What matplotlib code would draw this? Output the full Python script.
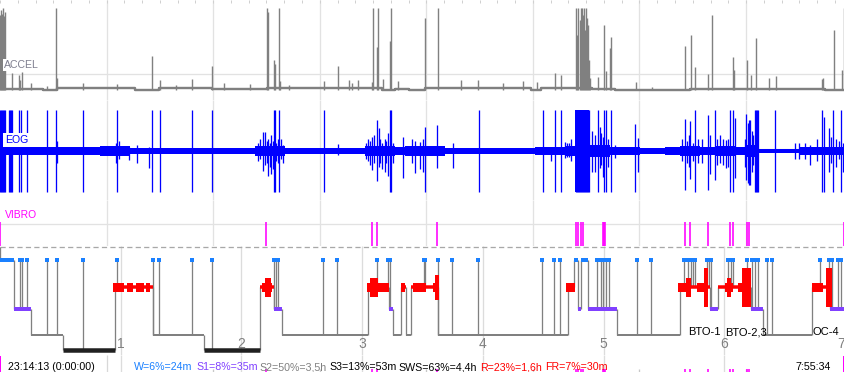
import matplotlib
matplotlib.use("Agg")
import matplotlib.pyplot as plt
import numpy as np

plt.rcParams['font.family'] = ['Liberation Sans', 'DejaVu Sans']

W_PX, H_PX = 845, 372
N_EPOCHS = 840          # 7 h of 30-s epochs

# ---------------- data (time in 30-s epochs) ----------------
accel_t = [0, 1, 2, 3, 4, 5, 12, 19, 20, 22, 31, 47, 56, 57, 83, 116, 151, 159, 175, 191,
           211, 223, 249, 265, 266, 272, 273, 277, 278, 287, 322, 336, 347, 350, 356, 370,
           371, 375, 376, 381, 388, 389, 396, 422, 435, 458, 475, 500, 520, 534, 552, 558,
           573, 574, 575, 577, 578, 579, 580, 581, 582, 583, 584, 585, 586, 587, 594, 600,
           602, 606, 607, 632, 648, 681, 687, 691, 704, 708, 729, 730, 743, 747, 752, 764,
           771, 817, 818, 829, 837, 839]
accel_v = [0.91, 0.98, 0.93, 1.0, 0.90, 0.95, 0.21, 0.18, 0.12, 0.22, 0.09, 0.05, 1.0, 0.15,
           0.09, 0.07, 0.41, 0.12, 0.06, 0.13, 0.29, 0.09, 0.07, 1.0, 0.95, 0.37, 0.32, 1.0,
           0.11, 0.06, 0.11, 0.29, 0.12, 0.09, 0.12, 0.10, 1.0, 0.52, 1.0, 0.13, 0.60, 1.0,
           0.11, 0.88, 1.0, 0.12, 0.12, 0.09, 0.11, 0.10, 0.21, 0.18, 1.0, 0.67, 1.0, 0.85,
           1.0, 1.0, 0.91, 1.0, 0.73, 1.0, 0.88, 0.79, 0.37, 0.15, 0.16, 0.79, 0.23, 0.51,
           0.65, 0.10, 0.04, 0.54, 0.67, 0.28, 0.20, 0.91, 0.40, 0.24, 0.37, 0.18, 0.63, 0.15,
           0.17, 0.13, 0.15, 0.73, 0.24, 1.0]
accel_base_t = [0, 43, 57, 95, 134, 158, 211, 265, 380, 393, 407, 422, 528, 538, 572, 588,
                611, 637, 686, 772, 820, 840]
accel_base_v = [0.01, 0.0, 0.02, 0.03, 0.0, 0.02, 0.015, 0.02, 0.0, 0.015, 0.005, 0.02, 0.0,
                0.02, 0.02, 0.01, 0.0, -0.005, 0.01, 0.015, 0.0, 0.0]

eog_env_t = [0, 12, 99, 129, 253, 283, 363, 393, 403, 442, 532, 562, 572, 586, 606, 636,
             661, 676, 696, 711, 731, 741, 755, 795, 840]
eog_env_v = [0.1, 0.1, 0.11, 0.08, 0.12, 0.085, 0.13, 0.1, 0.11, 0.08, 0.1, 0.11, 1.0, 0.14,
             0.1, 0.08, 0.09, 0.12, 0.1, 0.13, 0.1, 0.14, 0.05, 0.1, 0.1]
eog_full_t = [0, 1, 2, 3, 4, 5, 9, 10, 11, 12, 19, 21, 27, 47, 56, 83, 116, 151, 159, 191,
              211, 272, 273, 277, 322, 388, 389, 476, 540, 552, 558, 573, 574, 575, 576, 577,
              578, 579, 580, 581, 582, 583, 584, 585, 586, 594, 600, 602, 607, 691, 726, 729,
              751, 752, 753, 754, 770, 817, 828, 836]
eog_part_t = [57, 115, 118, 128, 136, 148, 256, 258, 261, 263, 265, 266, 268, 269, 271, 274,
              276, 279, 281, 336, 364, 366, 368, 370, 372, 375, 377, 378, 380, 383, 384, 386,
              391, 401, 410, 413, 418, 420, 422, 434, 450, 548, 562, 564, 566, 568, 588, 591,
              596, 597, 599, 604, 611, 631, 634, 678, 681, 683, 685, 686, 689, 694, 698, 704,
              706, 711, 713, 716, 719, 722, 724, 731, 741, 742, 744, 745, 746, 748, 749, 790,
              794, 800, 805, 812, 819, 824, 826, 831, 834, 838]
eog_part_hi = [0.24, 0.2, 0.25, 0.1, 0.15, 0.1, 0.2, 0.3, 0.46, 0.46, 0.25, 0.3, 0.2, 0.4,
               0.25, 0.2, 0.3, 0.3, 0.15, 0.17, 0.2, 0.3, 0.25, 0.34, 0.4, 0.76, 0.56, 0.3,
               0.2, 0.3, 0.25, 0.45, 0.2, 0.34, 0.3, 0.25, 0.23, 0.3, 0.59, 0.63, 0.2, 0.1,
               0.23, 0.2, 0.2, 0.3, 0.5, 0.4, 0.59, 0.45, 0.35, 0.3, 0.15, 0.66, 0.32, 0.3,
               0.78, 0.25, 0.39, 0.74, 0.2, 0.3, 0.3, 0.88, 0.4, 1.0, 0.3, 0.4, 0.3, 0.27, 0.3,
               0.8, 0.3, 0.9, 0.68, 0.76, 0.76, 0.5, 0.4, 0.2, 0.2, 0.2, 0.15, 0.3, 0.84,
               0.56, 0.35, 0.3, 0.25, 0.2]
eog_part_lo = [-0.3, -0.3, -0.2, -0.22, -0.3, -0.42, -0.25, -0.2, -0.48, -0.35, -0.3, -0.6,
               -0.4, -0.55, -0.45, -0.25, -0.3, -0.2, -0.3, -0.1, -0.2, -0.25, -0.35, -0.46,
               -0.3, -0.72, -0.38, -0.3, -0.45, -0.5, -0.3, -0.6, -0.3, -0.65, -0.3, -0.53,
               -0.44, -0.5, -1.0, -0.42, -0.42, -0.25, -0.17, -0.15, -0.15, -0.25, -0.5, -0.5,
               -0.42, -0.35, -0.63, -0.4, -0.17, -1.0, -0.5, -0.25, -0.95, -0.3, -0.38,
               -0.68, -0.25, -0.3, -0.3, -0.95, -0.55, -0.7, -0.35, -0.3, -0.35, -0.42, -0.4,
               -0.66, -0.4, -0.71, -0.78, -0.83, -0.83, -0.5, -0.35, -0.2, -0.2, -0.2, -0.34,
               -0.25, -1.0, -0.5, -0.3, -0.4, -0.2, -0.5]

vibro_t = [0, 264, 370, 375, 434, 573, 575, 578, 580, 599, 600, 601, 681, 686, 704, 726,
           729, 743, 745, 839]

hyp_start = [0, 14, 31, 63, 114, 152, 203, 258, 272, 280, 366, 387, 391, 399, 404, 409, 435,
             565, 571, 575, 578, 585, 613, 676, 706, 714, 747, 758, 807, 825]
hyp_stage = ['W', 'S1', 'S2', 'S3', 'R', 'S2', 'S3', 'R', 'S1', 'S2', 'R', 'S1', 'S2', 'R',
             'S2', 'R', 'S2', 'R', 'W', 'S1', 'W', 'S1', 'S2', 'R', 'S1', 'R', 'S1', 'S2',
             'R', 'S1']
wake_brief_t = [20, 22, 27, 47, 57, 83, 116, 152, 158, 191, 211, 272, 274, 276, 321, 335,
                375, 386, 388, 421, 422, 435, 449, 475, 539, 551, 557, 593, 597, 599, 602,
                605, 633, 647, 680, 684, 687, 689, 691, 703, 705, 707, 724, 727, 729, 743,
                748, 751, 754, 762, 767, 815, 824, 827, 833, 836]
rem_start = [112, 126, 135, 145, 260, 263, 365, 368, 376, 399, 411, 430, 432, 563, 674, 682,
             693, 700, 721, 723, 734, 738, 807, 821]
rem_end = [123, 132, 143, 149, 270, 269, 376, 376, 387, 403, 423, 436, 436, 572, 684, 687,
           704, 704, 729, 727, 738, 747, 818, 827]
rem_density = [1, 1, 1, 1, 1, 2, 1, 2, 1, 1, 1, 1, 2.5, 1, 1, 2, 1, 4, 1, 2, 1, 4, 1, 4]

event_labels = ['BTO-1', 'BTO-2,3', 'OC-4']
event_t = [684, 721, 808]

hour_labels = ['1', '2', '3', '4', '5', '6', '7']
stats_text = ['W=6%=24m', 'S1=8%=35m', 'S2=50%=3,5h', 'S3=13%=53m', 'SWS=63%=4,4h',
              'R=23%=1,6h', 'FR=7%=30m']
start_label = '23:14:13 (0:00:00)'
end_label = '7:55:34'

# ---------------- styles ----------------
PX = 0.72  # points per pixel
C_GRID = '#e2e2e2'
C_ACC = '#808080'
C_EOG = '#0000ff'
C_VIB = '#ff00ff'
C_W = '#1a80ff'
C_S1 = '#8040ff'
C_S2 = '#808080'
C_S3 = '#202020'
C_R = '#ff0000'
stage_level = {'W': 0.0, 'R': 1.0, 'S1': 1.78, 'S2': 2.71, 'S3': 3.27}
stage_style = {'W': (C_W, 4), 'S1': (C_S1, 4), 'S2': (C_S2, 2), 'S3': (C_S3, 4.5), 'R': (C_R, 3.5)}
stats_colors = [C_W, C_S1, C_S2, '#000000', '#000000', C_R, C_R]
stats_x_px = [134, 196, 259, 329, 398, 480, 545]

grid_t = np.arange(1, 8) * 105.95
tick_t = np.arange(0, 48) * 105.95 / 6
hour_t = np.arange(1, 8) * 120

fig = plt.figure(figsize=(W_PX / 100, H_PX / 100), dpi=100)


def band_axes(top, bottom):
    a = fig.add_axes([0, 1 - bottom / H_PX, 1, (bottom - top) / H_PX])
    a.set_xlim(0, N_EPOCHS)
    a.set_axis_off()
    a.patch.set_alpha(0)
    return a


# ---- ACCEL ----
ax_a = band_axes(0, 100)
ax_a.set_ylim(-0.122, 1.098)
ax_a.vlines(grid_t, -0.122, 1.098, color=C_GRID, lw=1.3 * PX, zorder=0)
ax_a.axhline(0.195, color=C_GRID, lw=1.3 * PX, zorder=0)
ax_a.vlines(tick_t, 0.97, 1.0, color='#d0d0d0', lw=1 * PX,
            transform=ax_a.get_xaxis_transform(), zorder=0)
ax_a.step(accel_base_t, accel_base_v, where='post', color=C_ACC, lw=2.4 * PX, zorder=2)
ax_a.vlines(accel_t, 0, accel_v, color=C_ACC, lw=1.4 * PX, zorder=2)
ax_a.text(0.0045, 0.35, 'ACCEL', transform=ax_a.transAxes, va='center', ha='left',
          fontsize=7.6, color='#7f7f8f', zorder=5,
          bbox=dict(boxstyle='square,pad=0.12', fc='white', ec='none'))

# ---- EOG ----
ax_e = band_axes(100, 200)
ax_e.set_ylim(-1.195, 1.244)
ax_e.vlines(grid_t, -1.195, 1.244, color=C_GRID, lw=1.3 * PX, zorder=0)
ax_e.axhline(0.05, color=C_GRID, lw=1.3 * PX, zorder=0)
env = np.array(eog_env_v)
ax_e.fill_between(eog_env_t, -env, env, step='post', color=C_EOG, lw=0, zorder=2)
ax_e.axhline(0, color=C_EOG, lw=3 * PX, zorder=2)
ax_e.vlines(eog_full_t, -1, 1, color=C_EOG, lw=1.3 * PX, zorder=2)
ax_e.vlines(eog_part_t, eog_part_lo, eog_part_hi, color=C_EOG, lw=1.3 * PX, zorder=2)
ax_e.text(0.0055, 0.6, 'EOG', transform=ax_e.transAxes, va='center', ha='left',
          fontsize=7.6, color=C_EOG, zorder=5,
          bbox=dict(boxstyle='square,pad=0.15', fc='white', ec='none'))

# ---- VIBRO ----
ax_v = band_axes(200, 246)
ax_v.set_ylim(0, 1.9)
ax_v.vlines(grid_t, 0, 1.9, color=C_GRID, lw=1.3 * PX, zorder=0)
ax_v.axhline(0.9, color=C_GRID, lw=1.3 * PX, zorder=0)
ax_v.vlines(vibro_t, 0, 1.0, color=C_VIB, lw=1.6 * PX, zorder=2)
ax_v.text(0.006, 0.674, 'VIBRO', transform=ax_v.transAxes, va='center', ha='left',
          fontsize=7.4, color=C_VIB, zorder=5)

# ---- Hypnogram ----
ax_h = band_axes(246, 355)
ax_h.set_ylim(3.4545, -0.509)
ax_h.vlines(hour_t, 3.4545, -0.509, color='#dcdcdc', lw=1.3 * PX, zorder=0)
ax_h.axhline(-0.47, color='#a8a8a8', lw=1.3 * PX, ls=(0, (4, 2.5)), zorder=1)
ends = hyp_start[1:] + [N_EPOCHS]


def stage_at(t):
    idx = np.searchsorted(hyp_start, t, side='right') - 1
    return hyp_stage[idx]


ax_h.vlines(hyp_start[0], -0.47, stage_level[hyp_stage[0]], color='#808080',
            lw=1.3 * PX, zorder=2)
for i in range(1, len(hyp_start)):
    ax_h.vlines(hyp_start[i], stage_level[hyp_stage[i - 1]], stage_level[hyp_stage[i]],
                color='#808080', lw=1.3 * PX, zorder=2)
wb_lo = [stage_level[stage_at(t)] for t in wake_brief_t]
ax_h.vlines(wake_brief_t, 0, wb_lo, color='#808080', lw=1.3 * PX, zorder=2)
for s, e, st in zip(hyp_start, ends, hyp_stage):
    col, lw = stage_style[st]
    ax_h.hlines(stage_level[st], s, e, color=col, lw=lw * PX, zorder=3)
ax_h.plot(wake_brief_t, [0] * len(wake_brief_t), 's', color=C_W, ms=3.2, mew=0, zorder=4)
half = 0.18 * np.array(rem_density)
ax_h.bar(rem_start, 2 * half, bottom=stage_level['R'] - half,
         width=np.array(rem_end) - np.array(rem_start), align='edge',
         color=C_R, lw=0, zorder=4)
for lab, t in zip(hour_labels, hour_t):
    ha = 'right' if t >= N_EPOCHS else 'center'
    ax_h.text(min(t, N_EPOCHS - 0.3), 3.05, lab, ha=ha, va='center', fontsize=10,
              color='#808080', zorder=5)
for lab, t in zip(event_labels, event_t):
    ax_h.text(t, 2.62, lab, ha='left', va='center', fontsize=8, color='black', zorder=5)

# ---- bottom bar ----
ax_b = band_axes(355, 372)
ax_b.set_ylim(0, 1)
ax_b.vlines(hour_t, 0, 1, color='#dcdcdc', lw=1.3 * PX, zorder=0)
ax_b.vlines(grid_t[:1], 0, 1, color='#d8d8d8', lw=1.3 * PX, zorder=0)
ax_b.vlines(grid_t[1:], 0, 0.2, color='#c8c8c8', lw=1.3 * PX, zorder=0)
ax_b.vlines(vibro_t, 0, 0.2, color=C_VIB, lw=1.6 * PX, zorder=1)
ax_b.vlines([vibro_t[0], vibro_t[-1]], 0, 0.95, color=C_VIB, lw=2 * PX, zorder=1)

yb = 1 - 370.5 / H_PX
FS_B = 7.7
fig.text(8 / W_PX, yb, start_label, ha='left', va='baseline', fontsize=FS_B, color='black')
for txt, col, xp in zip(stats_text, stats_colors, stats_x_px):
    fig.text(xp / W_PX, yb, txt, ha='left', va='baseline', fontsize=FS_B, color=col)
fig.text(795 / W_PX, yb, end_label, ha='left', va='baseline', fontsize=FS_B, color='black')

fig.savefig('out.png', dpi=100, facecolor='white')
